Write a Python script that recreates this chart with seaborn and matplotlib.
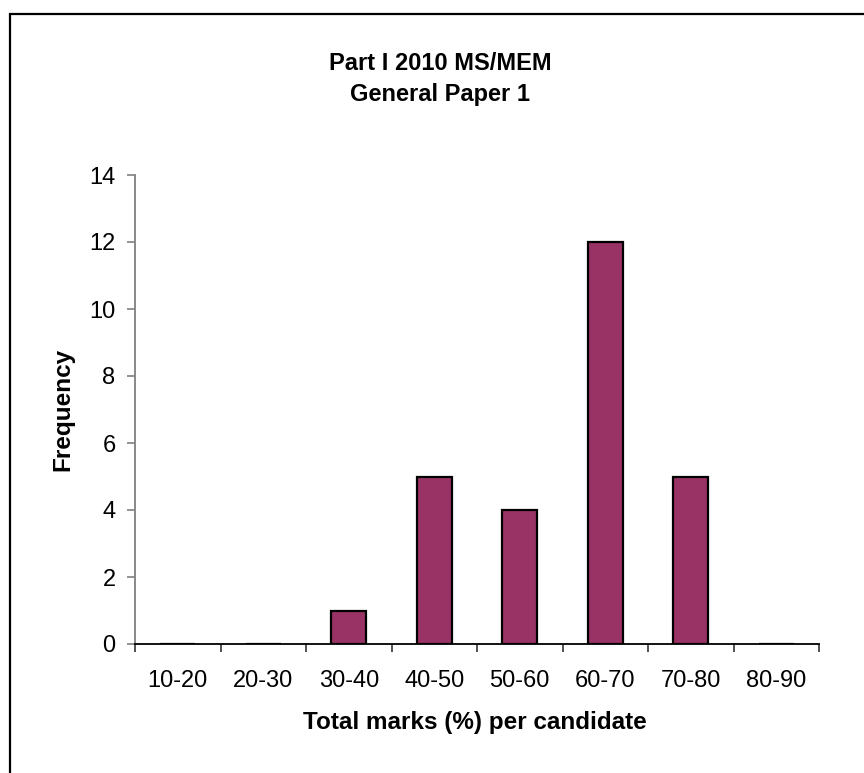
import matplotlib
matplotlib.use("Agg")
import matplotlib.pyplot as plt
from matplotlib.patches import Rectangle
from matplotlib.ticker import FixedLocator, NullFormatter, FixedFormatter
import seaborn as sns
import pandas as pd

# Histogram of total marks per candidate
mark_bands = ["10-20", "20-30", "30-40", "40-50", "50-60", "60-70", "70-80", "80-90"]
frequency = [0, 0, 1, 5, 4, 12, 5, 0]
y_ticks = [0, 2, 4, 6, 8, 10, 12, 14]

title_lines = ["Part I 2010 MS/MEM", "General Paper 1"]
x_label = "Total marks (%) per candidate"
y_label = "Frequency"

bar_color = "#993366"

sns.set_theme(style="white")
plt.rcParams["font.family"] = ["Liberation Sans", "DejaVu Sans"]
plt.rcParams["text.color"] = "black"
plt.rcParams["axes.labelcolor"] = "black"
plt.rcParams["xtick.labelcolor"] = "black"
plt.rcParams["ytick.labelcolor"] = "black"

df = pd.DataFrame({"band": mark_bands, "count": frequency})

fig = plt.figure(figsize=(8.64, 7.73), dpi=100)
ax = fig.add_axes([135 / 864, 1 - 644 / 773, 684 / 864, 469 / 773])

sns.barplot(data=df, x="band", y="count", color=bar_color, saturation=1,
            width=0.41, edgecolor="black", linewidth=1.6, ax=ax)

ax.set_xlim(-0.5, len(mark_bands) - 0.5)
ax.set_ylim(0, 14)
ax.set_yticks(y_ticks)
ax.set_yticklabels([str(v) for v in y_ticks], fontsize=17)

# category boundaries carry the tick marks, centres carry the labels
ax.xaxis.set_major_locator(FixedLocator([i - 0.5 for i in range(len(mark_bands) + 1)]))
ax.xaxis.set_major_formatter(NullFormatter())
ax.xaxis.set_minor_locator(FixedLocator(list(range(len(mark_bands)))))
ax.xaxis.set_minor_formatter(FixedFormatter(mark_bands))
ax.tick_params(axis="x", which="major", direction="out", length=6, width=1.2,
               color="#333333", bottom=True)
ax.tick_params(axis="x", which="minor", length=0, pad=19, labelsize=17, bottom=True)
ax.tick_params(axis="y", direction="out", length=6, width=1.2, color="#808080",
               pad=8, left=True)

for side in ["top", "right"]:
    ax.spines[side].set_visible(False)
ax.spines["left"].set_color("#808080")
ax.spines["left"].set_linewidth(1.3)
ax.spines["bottom"].set_color("black")
ax.spines["bottom"].set_linewidth(1.3)

ax.set_xlabel(x_label, fontsize=17.5, fontweight="bold", va="center")
ax.xaxis.set_label_coords(0.497, (644 - 723) / 469)
ax.set_ylabel(y_label, fontsize=17.5, fontweight="bold", va="center")
ax.yaxis.set_label_coords((63 - 135) / 684, 0.5)

fig.text(440 / 864, 1 - 79 / 773, "\n".join(title_lines), ha="center", va="center",
         fontsize=17, fontweight="bold", linespacing=1.45)

# outer chart-area border
fig.patches.append(Rectangle((9.5 / 864, -0.05), 1.1, 1 - 13.5 / 773 + 0.05,
                             transform=fig.transFigure, fill=False,
                             edgecolor="black", linewidth=1.6))

fig.savefig("out.png", dpi=100)
